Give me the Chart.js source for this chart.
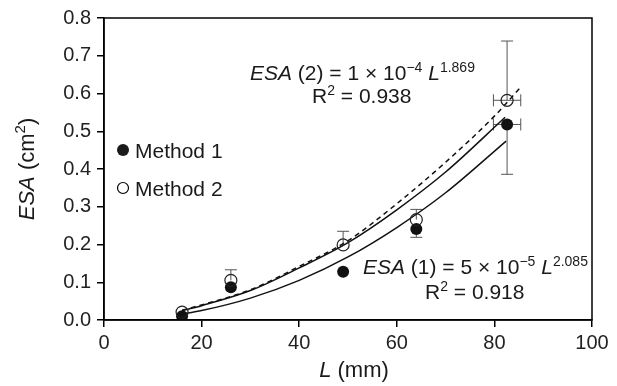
<!DOCTYPE html>
<html>
<head>
<meta charset="utf-8">
<script src="https://cdn.jsdelivr.net/npm/chart.js@4.4.0/dist/chart.umd.min.js"></script>
<style>
  html, body { margin: 0; padding: 0; background: #fff; }
  #wrap { width: 617px; height: 386px; }
</style>
</head>
<body>
<div id="wrap"><canvas id="esaChart" width="617" height="386"></canvas></div>
<script>
// length L (mm) and ESA (cm2) per size class, two measuring methods
var lengths  = [16, 26, 49, 64, 82.6];
var method1  = [0.010, 0.087, 0.128, 0.241, 0.518];
var method2  = [0.021, 0.105, 0.199, 0.266, 0.582];
// error bar ends (null = no bar)
var m1Low    = [null, null, null, 0.219, 0.386];
var m2High   = [null, 0.133, 0.235, 0.293, 0.739];
var lenErr   = [0, 0, 0, 0, 2.8];

// power curves sampled along L
var fit1L    = [16, 20, 30, 40, 50, 60, 70, 82.4];
var fit1     = [0.016, 0.025, 0.058, 0.105, 0.167, 0.245, 0.337, 0.474];
var fit2L    = [16, 20, 30, 40, 50, 60, 70, 82.2];
var fit2     = [0.025, 0.038, 0.078, 0.138, 0.205, 0.292, 0.392, 0.537];
var fitAllL  = [16, 20, 30, 40, 50, 60, 70, 80, 85.2];
var fitAll   = [0.026, 0.040, 0.080, 0.142, 0.210, 0.308, 0.418, 0.540, 0.614];

var xTickLabels = ['0', '20', '40', '60', '80', '100'];
var yTickLabels = ['0.0', '0.1', '0.2', '0.3', '0.4', '0.5', '0.6', '0.7', '0.8'];

var FONT = '"Liberation Sans", Arial, Helvetica, sans-serif';

function pts(xs, ys) {
  return xs.map(function (x, i) { return { x: x, y: ys[i] }; });
}

// draws a run of text pieces: plain, italic ('i') or superscript ('sup')
function richWidth(ctx, parts, size) {
  var w = 0;
  parts.forEach(function (p) {
    ctx.font = fontFor(p, size);
    w += ctx.measureText(p.t).width;
  });
  return w;
}
function fontFor(p, size) {
  if (p.s === 'sup') return Math.round(size * 0.66) + 'px ' + FONT;
  if (p.s === 'i') return 'italic ' + size + 'px ' + FONT;
  return size + 'px ' + FONT;
}
function drawRich(ctx, x, y, parts, size, align) {
  if (align === 'center') x -= richWidth(ctx, parts, size) / 2;
  ctx.textAlign = 'left';
  ctx.textBaseline = 'alphabetic';
  parts.forEach(function (p) {
    ctx.font = fontFor(p, size);
    var dy = p.s === 'sup' ? -size * 0.4 : 0;
    ctx.fillText(p.t, x, y + dy);
    x += ctx.measureText(p.t).width;
  });
}

var errorBars = {
  id: 'errorBars',
  beforeDatasetsDraw: function (chart) {
    var ctx = chart.ctx, xs = chart.scales.x, ys = chart.scales.y;
    var cap = 6;
    ctx.save();
    ctx.strokeStyle = '#555';
    ctx.lineWidth = 1;
    function vbar(L, v0, v1) {
      var px = xs.getPixelForValue(L);
      var a = ys.getPixelForValue(v0), b = ys.getPixelForValue(v1);
      ctx.beginPath();
      ctx.moveTo(px, a); ctx.lineTo(px, b);
      ctx.moveTo(px - cap, b); ctx.lineTo(px + cap, b);
      ctx.stroke();
    }
    function hbar(L, v, e) {
      var py = ys.getPixelForValue(v);
      var a = xs.getPixelForValue(L - e), b = xs.getPixelForValue(L + e);
      ctx.beginPath();
      ctx.moveTo(a, py); ctx.lineTo(b, py);
      ctx.moveTo(a, py - cap); ctx.lineTo(a, py + cap);
      ctx.moveTo(b, py - cap); ctx.lineTo(b, py + cap);
      ctx.stroke();
    }
    lengths.forEach(function (L, i) {
      if (m1Low[i] !== null) vbar(L, method1[i], m1Low[i]);
      if (m2High[i] !== null) vbar(L, method2[i], m2High[i]);
      if (lenErr[i]) {
        hbar(L, method1[i], lenErr[i]);
        hbar(L, method2[i], lenErr[i]);
      }
    });
    ctx.restore();
  }
};

var decorations = {
  id: 'decorations',
  afterDraw: function (chart) {
    var ctx = chart.ctx, a = chart.chartArea;
    ctx.save();
    // frame
    ctx.strokeStyle = '#000';
    ctx.lineWidth = 1.5;
    ctx.strokeRect(a.left, a.top, a.right - a.left, a.bottom - a.top);

    ctx.fillStyle = '#1a1a1a';
    // legend
    ctx.beginPath();
    ctx.arc(123, 150, 6, 0, Math.PI * 2);
    ctx.fill();
    ctx.beginPath();
    ctx.arc(123, 188, 5.5, 0, Math.PI * 2);
    ctx.lineWidth = 1.2;
    ctx.stroke();
    drawRich(ctx, 135, 158, [{ t: 'Method 1' }], 21);
    drawRich(ctx, 135, 196, [{ t: 'Method 2' }], 21);

    // fit equations
    drawRich(ctx, 250, 80, [
      { t: 'ESA', s: 'i' }, { t: ' (2) = 1 \u00d7 10' }, { t: '\u22124', s: 'sup' },
      { t: ' ' }, { t: 'L', s: 'i' }, { t: '1.869', s: 'sup' }
    ], 21);
    drawRich(ctx, 312, 103, [{ t: 'R' }, { t: '2', s: 'sup' }, { t: ' = 0.938' }], 21);
    drawRich(ctx, 363, 274, [
      { t: 'ESA', s: 'i' }, { t: ' (1) = 5 \u00d7 10' }, { t: '\u22125', s: 'sup' },
      { t: ' ' }, { t: 'L', s: 'i' }, { t: '2.085', s: 'sup' }
    ], 21);
    drawRich(ctx, 425, 299, [{ t: 'R' }, { t: '2', s: 'sup' }, { t: ' = 0.918' }], 21);

    // axis titles
    drawRich(ctx, 354, 377, [{ t: 'L', s: 'i' }, { t: ' (mm)' }], 22, 'center');
    ctx.translate(34, (a.top + a.bottom) / 2);
    ctx.rotate(-Math.PI / 2);
    drawRich(ctx, 0, 0, [{ t: 'ESA', s: 'i' }, { t: ' (cm' }, { t: '2', s: 'sup' }, { t: ')' }], 22, 'center');
    ctx.restore();
  }
};

var tickFont = { family: FONT, size: 20 };

new Chart(document.getElementById('esaChart').getContext('2d'), {
  type: 'scatter',
  data: {
    datasets: [
      {
        label: 'Method 2',
        data: pts(lengths, method2),
        pointRadius: 6,
        pointHoverRadius: 6,
        pointBackgroundColor: 'rgba(0,0,0,0)',
        pointBorderColor: '#222',
        pointBorderWidth: 1.2,
        order: 1
      },
      {
        label: 'Method 1',
        data: pts(lengths, method1),
        pointRadius: 6,
        pointHoverRadius: 6,
        pointBackgroundColor: '#111',
        pointBorderColor: '#111',
        pointBorderWidth: 0,
        order: 2
      },
      {
        label: 'fit all',
        data: pts(fitAllL, fitAll),
        showLine: true,
        borderColor: '#111',
        borderWidth: 1.5,
        borderDash: [5, 4],
        pointRadius: 0,
        cubicInterpolationMode: 'monotone',
        order: 3
      },
      {
        label: 'fit 2',
        data: pts(fit2L, fit2),
        showLine: true,
        borderColor: '#111',
        borderWidth: 1.5,
        pointRadius: 0,
        cubicInterpolationMode: 'monotone',
        order: 4
      },
      {
        label: 'fit 1',
        data: pts(fit1L, fit1),
        showLine: true,
        borderColor: '#111',
        borderWidth: 1.5,
        pointRadius: 0,
        cubicInterpolationMode: 'monotone',
        order: 5
      }
    ]
  },
  options: {
    responsive: false,
    animation: false,
    devicePixelRatio: 1,
    layout: { padding: { top: 16, right: 25, left: 0, bottom: 0 } },
    plugins: {
      legend: { display: false },
      tooltip: { enabled: false }
    },
    scales: {
      x: {
        type: 'linear',
        min: 0,
        max: 100,
        afterBuildTicks: function (s) {
          s.ticks = xTickLabels.map(function (t) { return { value: Number(t) }; });
        },
        afterFit: function (s) { s.height = 66; },
        grid: { drawOnChartArea: false, tickLength: 7, color: '#000', lineWidth: 1.5 },
        border: { display: true, color: '#000', width: 1.5 },
        ticks: {
          font: tickFont,
          color: '#222',
          padding: 4,
          maxRotation: 0,
          callback: function (v) { return xTickLabels[xTickLabels.indexOf(String(v))]; }
        }
      },
      y: {
        type: 'linear',
        min: 0,
        max: 0.8,
        afterBuildTicks: function (s) {
          s.ticks = yTickLabels.map(function (t) { return { value: Number(t) }; });
        },
        afterFit: function (s) { s.width = 104; },
        grid: { drawOnChartArea: false, tickLength: 7, color: '#000', lineWidth: 1.5 },
        border: { display: true, color: '#000', width: 1.5 },
        ticks: {
          font: tickFont,
          color: '#222',
          padding: 6,
          callback: function (v) { return v.toFixed(1); }
        }
      }
    }
  },
  plugins: [errorBars, decorations]
});
</script>
</body>
</html>
